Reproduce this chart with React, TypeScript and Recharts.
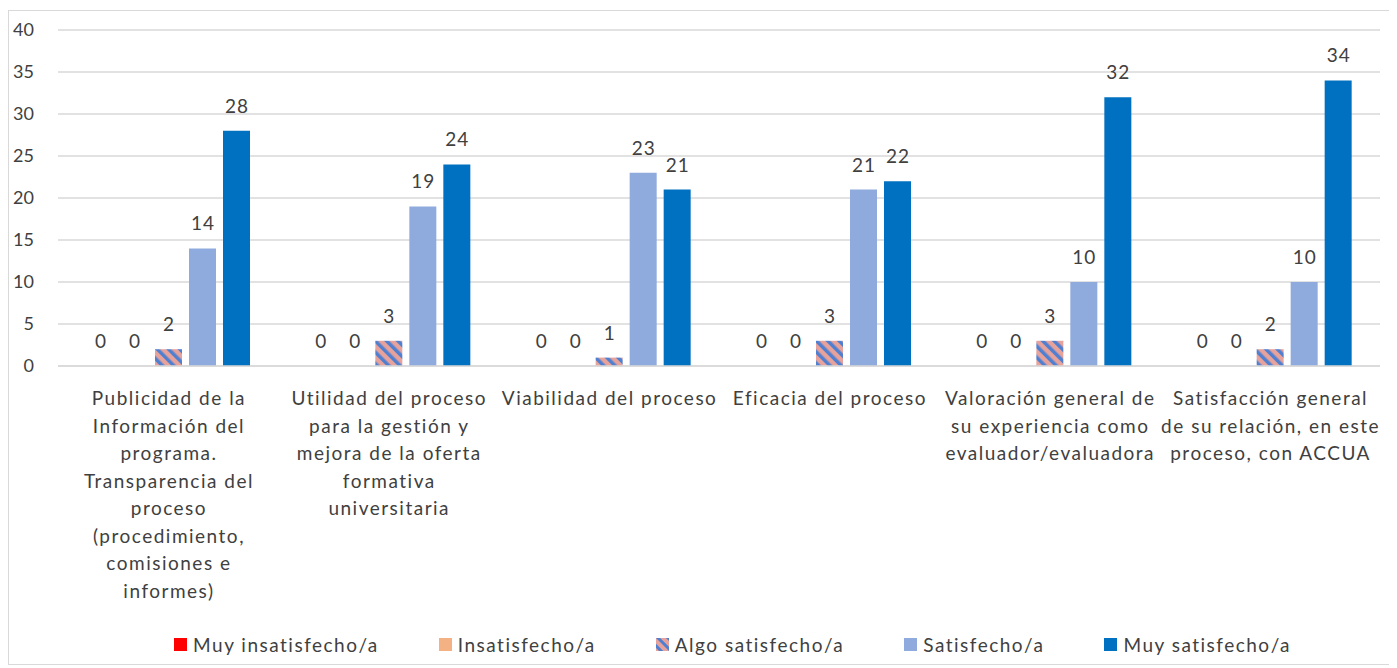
import React from "react";
import { BarChart, Bar, XAxis, YAxis, CartesianGrid, Legend, LabelList } from "recharts";

const categories: string[] = [
  "Publicidad de la\nInformación del\nprograma.\nTransparencia del\nproceso\n(procedimiento,\ncomisiones e\ninformes)",
  "Utilidad del proceso\npara la gestión y\nmejora de la oferta\nformativa\nuniversitaria",
  "Viabilidad del proceso",
  "Eficacia del proceso",
  "Valoración general de\nsu experiencia como\nevaluador/evaluadora",
  "Satisfacción general\nde su relación, en este\nproceso, con ACCUA",
];

const muyInsatisfecho = [0, 0, 0, 0, 0, 0];
const insatisfecho = [0, 0, 0, 0, 0, 0];
const algoSatisfecho = [2, 3, 1, 3, 3, 2];
const satisfecho = [14, 19, 23, 21, 10, 10];
const muySatisfecho = [28, 24, 21, 22, 32, 34];

const yTicks = [0, 5, 10, 15, 20, 25, 30, 35, 40];

const seriesNames = ["Muy insatisfecho/a", "Insatisfecho/a", "Algo satisfecho/a", "Satisfecho/a", "Muy satisfecho/a"];

const data = categories.map((c, i) => ({
  name: c,
  s0: muyInsatisfecho[i],
  s1: insatisfecho[i],
  s2: algoSatisfecho[i],
  s3: satisfecho[i],
  s4: muySatisfecho[i],
}));

const FONT = "Lato, 'Open Sans', sans-serif";
const TEXT = "#404040";
const LS = 1.5;

const series = [
  { key: "s0", name: seriesNames[0], fill: "#FF0000" },
  { key: "s1", name: seriesNames[1], fill: "#F4B183" },
  { key: "s2", name: seriesNames[2], fill: "url(#hatch)" },
  { key: "s3", name: seriesNames[3], fill: "#8FAADC" },
  { key: "s4", name: seriesNames[4], fill: "#0070C0" },
];

const CategoryTick = (props: any) => {
  const { x, y, payload } = props;
  const lines = String(payload.value).split("\n");
  return (
    <g transform={`translate(${x},${y})`}>
      <text textAnchor="middle" fill={TEXT} fontSize={19} fontFamily={FONT} letterSpacing={LS}>
        {lines.map((l, i) => (
          <tspan key={i} x={LS / 2} y={31 + i * 27.5}>
            {l}
          </tspan>
        ))}
      </text>
    </g>
  );
};

const ValueLabel = (props: any) => {
  const { x, y, width, height, value } = props;
  if (value === undefined || value === null) return null;
  const top = Math.min(Number(y), Number(y) + Number(height || 0));
  return (
    <text
      x={Number(x) + Number(width) / 2 + 0.5}
      y={top - 18}
      textAnchor="middle"
      fill={TEXT}
      fontSize={19}
      fontFamily={FONT}
      letterSpacing={1}
    >
      {value}
    </text>
  );
};

const LegendContent = () => (
  <div
    style={{
      display: "flex",
      justifyContent: "center",
      alignItems: "center",
      gap: 60,
      height: 30,
      paddingLeft: 76,
      fontFamily: FONT,
      fontSize: 19,
      letterSpacing: LS,
      color: TEXT,
    }}
  >
    {series.map((s) => (
      <div key={s.key} style={{ display: "flex", alignItems: "center", gap: 6 }}>
        <svg width={13} height={13}>
          <defs>
            <pattern id={`hatchL${s.key}`} width="7" height="7" patternUnits="userSpaceOnUse" patternTransform="rotate(-45)">
              <rect width="7" height="7" fill="#E7A29B" />
              <rect width="3" height="7" fill="#4F7FD0" />
            </pattern>
          </defs>
          <rect width={13} height={13} fill={s.key === "s2" ? `url(#hatchL${s.key})` : s.fill} />
        </svg>
        <span>{s.name}</span>
      </div>
    ))}
  </div>
);

export default function App() {
  return (
    <div
      style={{
        width: 1383,
        height: 653,
        border: "1px solid #D9D9D9",
        marginTop: 2,
        background: "#fff",
      }}
    >
      <BarChart
        width={1383}
        height={653}
        data={data}
        margin={{ top: 19, right: 12, left: 0, bottom: 5 }}
        barSize={27}
        barGap={7}
      >
        <defs>
          <pattern id="hatch" width="8" height="8" patternUnits="userSpaceOnUse" patternTransform="rotate(-45)">
            <rect width="8" height="8" fill="#E7A29B" />
            <rect width="3.5" height="8" fill="#4F7FD0" />
          </pattern>
        </defs>
        <CartesianGrid vertical={false} stroke="#D9D9D9" strokeWidth={1.5} />
        <XAxis
          dataKey="name"
          interval={0}
          height={263}
          tickLine={false}
          axisLine={{ stroke: "#D9D9D9", strokeWidth: 1.5 }}
          tick={<CategoryTick />}
        />
        <YAxis
          width={49}
          domain={[0, 40]}
          ticks={yTicks}
          interval={0}
          axisLine={false}
          tickLine={false}
          tickSize={0}
          tickMargin={24}
          tick={{ fill: TEXT, fontSize: 18, fontFamily: FONT }}
        />
        <Legend verticalAlign="bottom" height={30} content={<LegendContent />} />
        {series.map((s) => (
          <Bar key={s.key} dataKey={s.key} name={s.name} fill={s.fill} minPointSize={0.01} isAnimationActive={false}>
            <LabelList dataKey={s.key} content={<ValueLabel />} />
          </Bar>
        ))}
      </BarChart>
    </div>
  );
}
